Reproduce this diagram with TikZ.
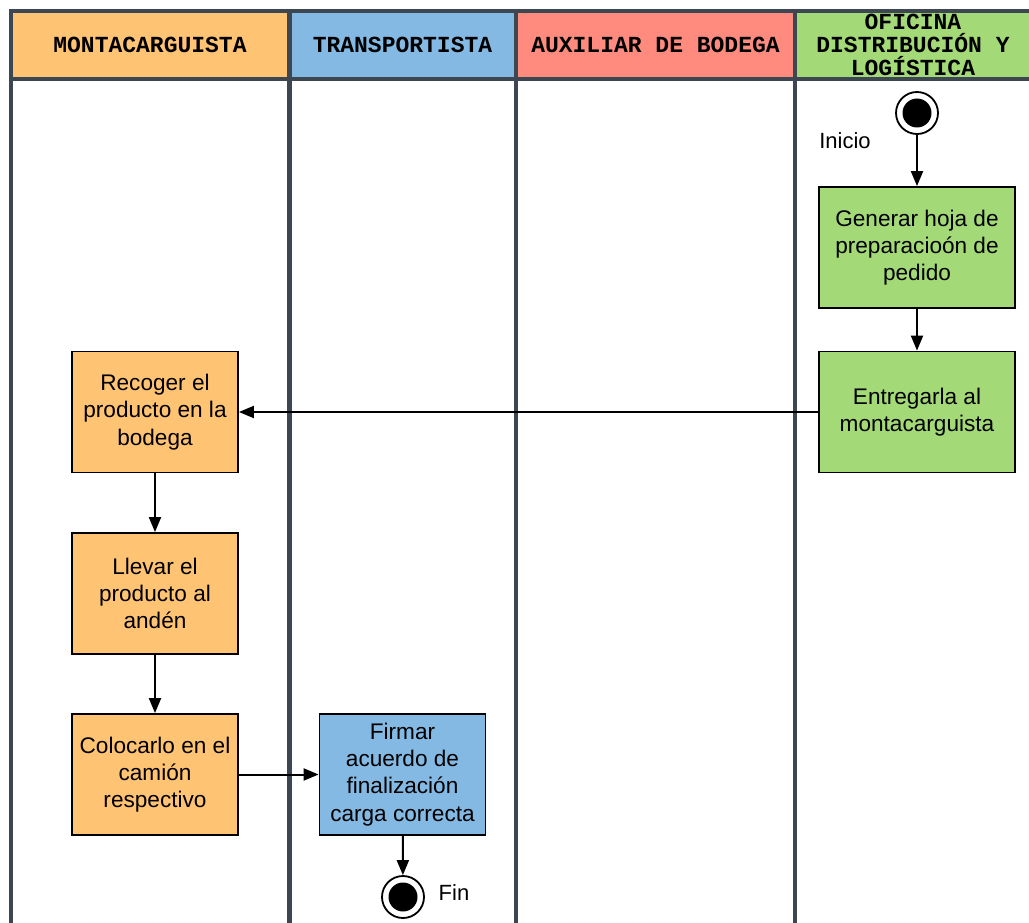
\documentclass[tikz,border=0pt]{standalone}
\usepackage{fontspec}
\setmainfont{Liberation Sans}
\newfontfamily\lanefont{Liberation Mono}
\usetikzlibrary{arrows.meta}

\definecolor{laneline}{HTML}{3D4752}
\definecolor{cOrange}{HTML}{FFC374}
\definecolor{cBlue}{HTML}{83B9E3}
\definecolor{cRed}{HTML}{FF8B7E}
\definecolor{cGreen}{HTML}{A3D977}

\tikzset{
  lane/.style={draw=laneline, line width=4.5pt},
  lanetitle/.style={inner sep=0pt, align=center,
    font=\lanefont\bfseries\fontsize{23}{23}\selectfont},
  task/.style={draw=black, line width=1.8pt, inner sep=0pt, align=center,
    minimum height=121pt, font=\fontsize{22.6}{27.3}\selectfont},
  narrow/.style={task, minimum width=166pt},
  wide/.style={task, minimum width=196pt},
  terminal/.style={circle, draw=black, line width=1.8pt, minimum size=42pt,
    inner sep=0pt, fill=white,
    path picture={\fill[black] (path picture bounding box.center) circle (14.5pt);}},
  tag/.style={inner sep=0pt, font=\fontsize{22}{26}\selectfont},
  flow/.style={line width=2pt, -{Triangle[length=15pt,width=12pt]}}
}

\begin{document}
\begin{tikzpicture}[x=1pt, y=-1pt]
\useasboundingbox (0,0) rectangle (1029,923);

% lane headers
\fill[cOrange] (11,11) rectangle (289.5,79);
\fill[cBlue]   (289.5,11) rectangle (516,79);
\fill[cRed]    (516,11) rectangle (795,79);
\fill[cGreen]  (795,11) rectangle (1029,79);

\node[lanetitle] (hMonta) at (150,45) {MONTACARGUISTA};
\node[lanetitle] (hTrans) at (402.5,45) {TRANSPORTISTA};
\node[lanetitle] (hAux)   at (655.5,45) {AUXILIAR DE BODEGA};
\node[lanetitle] (hOfi)   at (913,45) {OFICINA\\DISTRIBUCIÓN Y\\LOGÍSTICA};

% lane borders
\draw[lane] (8.75,11) -- (1029,11);
\draw[lane] (8.75,79) -- (1029,79);
\draw[lane] (11,8.75) -- (11,923);
\draw[lane] (289.5,8.75) -- (289.5,923);
\draw[lane] (516,8.75) -- (516,923);
\draw[lane] (795,8.75) -- (795,923);

% activities
\node[terminal] (inicio) at (917,113) {};
\node[tag] (lblInicio) at (845,141) {Inicio};

\node[wide, fill=cGreen] (generar) at (917,247.5)
  {Generar hoja de\\preparacioón de\\pedido};
\node[wide, fill=cGreen] (entregar) at (917,412)
  {Entregarla al\\montacarguista};

\node[narrow, fill=cOrange] (recoger) at (155,412)
  {Recoger el\\producto en la\\bodega};
\node[narrow, fill=cOrange] (llevar) at (155,593.5)
  {Llevar el\\producto al\\andén};
\node[narrow, fill=cOrange] (colocar) at (155,774.5)
  {Colocarlo en el\\camión\\respectivo};

\node[narrow, fill=cBlue] (firmar) at (402.5,774.5)
  {Firmar\\acuerdo de\\finalización\\carga correcta};

\node[terminal] (fin) at (403,897) {};
\node[tag] (lblFin) at (454,893) {Fin};

% flow
\draw[flow] (inicio) -- (generar);
\draw[flow] (generar) -- (entregar);
\draw[flow] (entregar) -- (recoger);
\draw[flow] (recoger) -- (llevar);
\draw[flow] (llevar) -- (colocar);
\draw[flow] (colocar) -- (firmar);
\draw[flow] (firmar) -- (fin);
\end{tikzpicture}
\end{document}
